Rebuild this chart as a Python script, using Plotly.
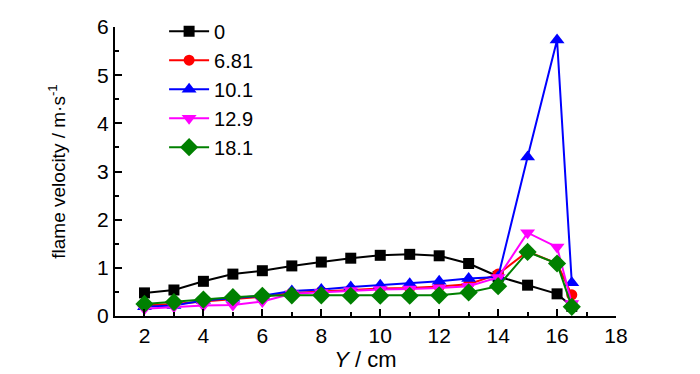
import plotly.graph_objects as go

y_pos = [2, 3, 4, 5, 6, 7, 8, 9, 10, 11, 12, 13, 14, 15, 16, 16.5]

labels = ["0", "6.81", "10.1", "12.9", "18.1"]

v_0 = [0.48, 0.54, 0.72, 0.87, 0.94, 1.04, 1.12, 1.20, 1.26, 1.28, 1.25, 1.09, 0.82, 0.64, 0.46, 0.20]
v_681 = [0.22, 0.25, 0.30, 0.35, 0.40, 0.48, 0.51, 0.55, 0.57, 0.58, 0.61, 0.66, 0.87, 1.34, 1.09, 0.44]
v_101 = [0.19, 0.22, 0.32, 0.37, 0.42, 0.52, 0.55, 0.60, 0.64, 0.67, 0.72, 0.78, 0.81, 3.30, 5.73, 0.69]
v_129 = [0.15, 0.19, 0.22, 0.23, 0.30, 0.46, 0.49, 0.53, 0.55, 0.56, 0.58, 0.62, 0.80, 1.73, 1.43, 0.26]
v_181 = [0.25, 0.29, 0.34, 0.39, 0.42, 0.43, 0.43, 0.42, 0.42, 0.42, 0.43, 0.49, 0.62, 1.33, 1.09, 0.19]

series = [v_0, v_681, v_101, v_129, v_181]
colors = ["#000000", "#ff0000", "#0000ff", "#ff00ff", "#008000"]
symbols = ["square", "circle", "triangle-up", "triangle-down", "diamond"]
sizes = [11, 11, 13, 13, 14]

FONT = "Arial, Liberation Sans, sans-serif"

fig = go.Figure()
for lab, vals, c, s, sz in zip(labels, series, colors, symbols, sizes):
    fig.add_trace(go.Scatter(
        x=y_pos, y=vals, name=lab, mode="lines+markers",
        line=dict(color=c, width=2),
        marker=dict(symbol=s, size=sz, color=c, line=dict(width=0)),
    ))

fig.update_layout(
    width=700, height=374,
    margin=dict(l=115, r=84, t=17, b=58),
    paper_bgcolor="white", plot_bgcolor="white",
    font=dict(family=FONT, size=20, color="black"),
    showlegend=True,
    legend=dict(x=0.098, y=1.053, xanchor="left", yanchor="top",
                bgcolor="rgba(0,0,0,0)", font=dict(size=20),
                tracegroupgap=0, itemwidth=40),
    xaxis=dict(
        range=[1, 18], tickvals=[2, 4, 6, 8, 10, 12, 14, 16, 18],
        showline=True, linecolor="black", linewidth=2,
        ticks="inside", ticklen=7, tickwidth=2, tickcolor="black",
        minor=dict(tickvals=[3, 5, 7, 9, 11, 13, 15, 17], ticks="inside",
                   ticklen=4, tickwidth=2, tickcolor="black"),
        showgrid=False, zeroline=False,
        tickfont=dict(size=21),
        title=dict(text="<i>Y</i> / cm", font=dict(size=22), standoff=0),
    ),
    yaxis=dict(
        range=[0, 6], tickvals=[0, 1, 2, 3, 4, 5, 6],
        showline=True, linecolor="black", linewidth=2,
        ticks="inside", ticklen=7, tickwidth=2, tickcolor="black",
        minor=dict(tickvals=[0.5, 1.5, 2.5, 3.5, 4.5, 5.5], ticks="inside",
                   ticklen=4, tickwidth=2, tickcolor="black"),
        showgrid=False, zeroline=False,
        tickfont=dict(size=21),
        title=dict(text="flame velocity / m·s<sup>-1</sup>", font=dict(size=19), standoff=26),
    ),
)

fig.write_html("out.html", config={"displayModeBar": False},
               post_script="document.body.style.margin='0';")
